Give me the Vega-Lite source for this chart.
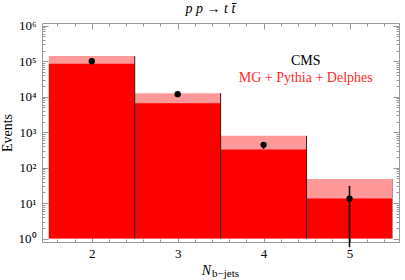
{
  "$schema": "https://vega.github.io/schema/vega-lite/v6.json",
  "width": 357,
  "height": 219,
  "autosize": {"type": "none"},
  "padding": {"left": 42, "top": 23, "right": 6, "bottom": 38},
  "title": {"text": "p p → t t̄", "font": "Liberation Serif", "fontStyle": "italic", "fontSize": 14, "fontWeight": "normal", "color": "black", "offset": 4, "dx": -10},
  "config": {
    "view": {"stroke": "#999", "strokeWidth": 1},
    "axis": {"domain": false, "grid": false, "tickColor": "#999", "tickWidth": 1, "labelFont": "Liberation Serif", "labelFontSize": 13, "labelColor": "black", "titleFont": "Liberation Serif", "titleFontSize": 14, "titleFontWeight": "normal", "titleColor": "black", "labelOverlap": false}
  },
  "datasets": {
    "bins": [
      {"n": 2, "lo": 1.5, "hi": 2.5, "mc": 85000, "mcup": 140000, "obs": 100000, "obslo": 97000, "obshi": 103000},
      {"n": 3, "lo": 2.5, "hi": 3.5, "mc": 6600, "mcup": 12600, "obs": 11800, "obslo": 11300, "obshi": 12300},
      {"n": 4, "lo": 3.5, "hi": 4.5, "mc": 325, "mcup": 790, "obs": 440, "obslo": 340, "obshi": 520},
      {"n": 5, "lo": 4.5, "hi": 5.5, "mc": 13.4, "mcup": 48, "obs": 13.4, "obslo": 0.57, "obshi": 30.6}
    ],
    "edges": [
      {"edge": 2.5, "top": 140000},
      {"edge": 3.5, "top": 12600},
      {"edge": 4.5, "top": 790},
      {"edge": 5.5, "top": 48}
    ],
    "labels": [
      {"x": 4.49, "y": 78500, "text": "CMS", "kind": "cms"},
      {"x": 4.49, "y": 25200, "text": "MG + Pythia + Delphes", "kind": "mg"},
      {"x": 3.40, "y": 0.0826, "text": "b−jets", "kind": "sub"}
    ]
  },
  "layer": [
    {
      "data": {"name": "bins"},
      "mark": {"type": "bar", "color": "#ff9999"},
      "encoding": {
        "x": {"field": "lo", "type": "quantitative", "scale": {"domain": [1.421, 5.576], "nice": false, "zero": false},
          "axis": {"orient": "bottom", "title": "N", "titleFontStyle": "italic", "titleX": 164, "titleY": 32, "titleAlign": "center", "titleBaseline": "alphabetic",
            "values": [1.6, 1.8, 2, 2.2, 2.4, 2.6, 2.8, 3, 3.2, 3.4, 3.6, 3.8, 4, 4.2, 4.4, 4.6, 4.8, 5, 5.2, 5.4],
            "labelExpr": "abs(datum.value - round(datum.value)) < 0.001 ? format(datum.value, 'd') : ''",
            "tickSize": {"condition": {"test": "abs(datum.value - round(datum.value)) < 0.001", "value": -6}, "value": -3},
            "labelPadding": 11}},
        "x2": {"field": "hi"},
        "y": {"field": "mcup", "type": "quantitative", "scale": {"type": "log", "domain": [0.8017, 1199499], "nice": false},
          "axis": {"orient": "left", "title": "Events", "titlePadding": 4,
            "values": [1, 2, 3, 4, 5, 6, 7, 8, 9, 10, 20, 30, 40, 50, 60, 70, 80, 90, 100, 200, 300, 400, 500, 600, 700, 800, 900, 1000, 2000, 3000, 4000, 5000, 6000, 7000, 8000, 9000, 10000, 20000, 30000, 40000, 50000, 60000, 70000, 80000, 90000, 100000, 200000, 300000, 400000, 500000, 600000, 700000, 800000, 900000, 1000000],
            "labelExpr": "abs(log(datum.value)/LN10 - round(log(datum.value)/LN10)) < 0.001 ? '10' + ['⁰','¹','²','³','⁴','⁵','⁶'][round(log(datum.value)/LN10)] : ''",
            "tickSize": {"condition": {"test": "abs(log(datum.value)/LN10 - round(log(datum.value)/LN10)) < 0.001", "value": -6}, "value": -3},
            "labelPadding": 12}},
        "y2": {"datum": 1}
      }
    },
    {
      "data": {"name": "bins"},
      "mark": {"type": "bar", "color": "#ff0000"},
      "encoding": {
        "x": {"field": "lo", "type": "quantitative", "scale": {"domain": [1.421, 5.576], "nice": false, "zero": false}, "axis": null},
        "x2": {"field": "hi"},
        "y": {"field": "mc", "type": "quantitative", "scale": {"type": "log", "domain": [0.8017, 1199499], "nice": false}, "axis": null},
        "y2": {"datum": 1}
      }
    },
    {
      "data": {"name": "edges"},
      "transform": [{"filter": "datum.edge < 5"}],
      "mark": {"type": "rule", "color": "#222", "strokeWidth": 1},
      "encoding": {
        "x": {"field": "edge", "type": "quantitative", "scale": {"domain": [1.421, 5.576], "nice": false, "zero": false}, "axis": null},
        "y": {"field": "top", "type": "quantitative", "scale": {"type": "log", "domain": [0.8017, 1199499], "nice": false}, "axis": null},
        "y2": {"datum": 1}
      }
    },
    {
      "data": {"name": "edges"},
      "transform": [{"filter": "datum.edge > 5"}],
      "mark": {"type": "rule", "color": "#999", "strokeWidth": 1},
      "encoding": {
        "x": {"field": "edge", "type": "quantitative", "scale": {"domain": [1.421, 5.576], "nice": false, "zero": false}, "axis": null},
        "y": {"field": "top", "type": "quantitative", "scale": {"type": "log", "domain": [0.8017, 1199499], "nice": false}, "axis": null},
        "y2": {"datum": 1}
      }
    },
    {
      "data": {"name": "bins"},
      "mark": {"type": "rule", "color": "black", "strokeWidth": 1.6},
      "encoding": {
        "x": {"field": "n", "type": "quantitative", "scale": {"domain": [1.421, 5.576], "nice": false, "zero": false}, "axis": null},
        "y": {"field": "obslo", "type": "quantitative", "scale": {"type": "log", "domain": [0.8017, 1199499], "nice": false}, "axis": null},
        "y2": {"field": "obshi"}
      }
    },
    {
      "data": {"name": "bins"},
      "mark": {"type": "point", "filled": true, "color": "black", "opacity": 1, "size": 40},
      "encoding": {
        "x": {"field": "n", "type": "quantitative", "scale": {"domain": [1.421, 5.576], "nice": false, "zero": false},
          "axis": {"orient": "top", "title": null, "labels": false,
            "values": [1.6, 1.8, 2, 2.2, 2.4, 2.6, 2.8, 3, 3.2, 3.4, 3.6, 3.8, 4, 4.2, 4.4, 4.6, 4.8, 5, 5.2, 5.4],
            "tickSize": {"condition": {"test": "abs(datum.value - round(datum.value)) < 0.001", "value": -6}, "value": -3}}},
        "y": {"field": "obs", "type": "quantitative", "scale": {"type": "log", "domain": [0.8017, 1199499], "nice": false},
          "axis": {"orient": "right", "title": null, "labels": false,
            "values": [1, 2, 3, 4, 5, 6, 7, 8, 9, 10, 20, 30, 40, 50, 60, 70, 80, 90, 100, 200, 300, 400, 500, 600, 700, 800, 900, 1000, 2000, 3000, 4000, 5000, 6000, 7000, 8000, 9000, 10000, 20000, 30000, 40000, 50000, 60000, 70000, 80000, 90000, 100000, 200000, 300000, 400000, 500000, 600000, 700000, 800000, 900000, 1000000],
            "tickSize": {"condition": {"test": "abs(log(datum.value)/LN10 - round(log(datum.value)/LN10)) < 0.001", "value": -6}, "value": -3}}}
      }
    },
    {
      "data": {"name": "labels"},
      "transform": [{"filter": "datum.kind == 'cms'"}],
      "mark": {"type": "text", "font": "Liberation Serif", "fontSize": 14, "color": "black", "align": "center", "baseline": "alphabetic"},
      "encoding": {
        "x": {"field": "x", "type": "quantitative", "scale": {"domain": [1.421, 5.576], "nice": false, "zero": false}, "axis": null},
        "y": {"field": "y", "type": "quantitative", "scale": {"type": "log", "domain": [0.8017, 1199499], "nice": false}, "axis": null},
        "text": {"field": "text"}
      }
    },
    {
      "data": {"name": "labels"},
      "transform": [{"filter": "datum.kind == 'mg'"}],
      "mark": {"type": "text", "font": "Liberation Serif", "fontSize": 14, "color": "#ff2a2a", "align": "center", "baseline": "alphabetic"},
      "encoding": {
        "x": {"field": "x", "type": "quantitative", "scale": {"domain": [1.421, 5.576], "nice": false, "zero": false}, "axis": null},
        "y": {"field": "y", "type": "quantitative", "scale": {"type": "log", "domain": [0.8017, 1199499], "nice": false}, "axis": null},
        "text": {"field": "text"}
      }
    },
    {
      "data": {"name": "labels"},
      "transform": [{"filter": "datum.kind == 'sub'"}],
      "mark": {"type": "text", "font": "Liberation Serif", "fontSize": 11, "color": "black", "align": "left", "baseline": "alphabetic"},
      "encoding": {
        "x": {"field": "x", "type": "quantitative", "scale": {"domain": [1.421, 5.576], "nice": false, "zero": false}, "axis": null},
        "y": {"field": "y", "type": "quantitative", "scale": {"type": "log", "domain": [0.8017, 1199499], "nice": false}, "axis": null},
        "text": {"field": "text"}
      }
    }
  ],
  "resolve": {"axis": {"x": "independent", "y": "independent"}}
}
